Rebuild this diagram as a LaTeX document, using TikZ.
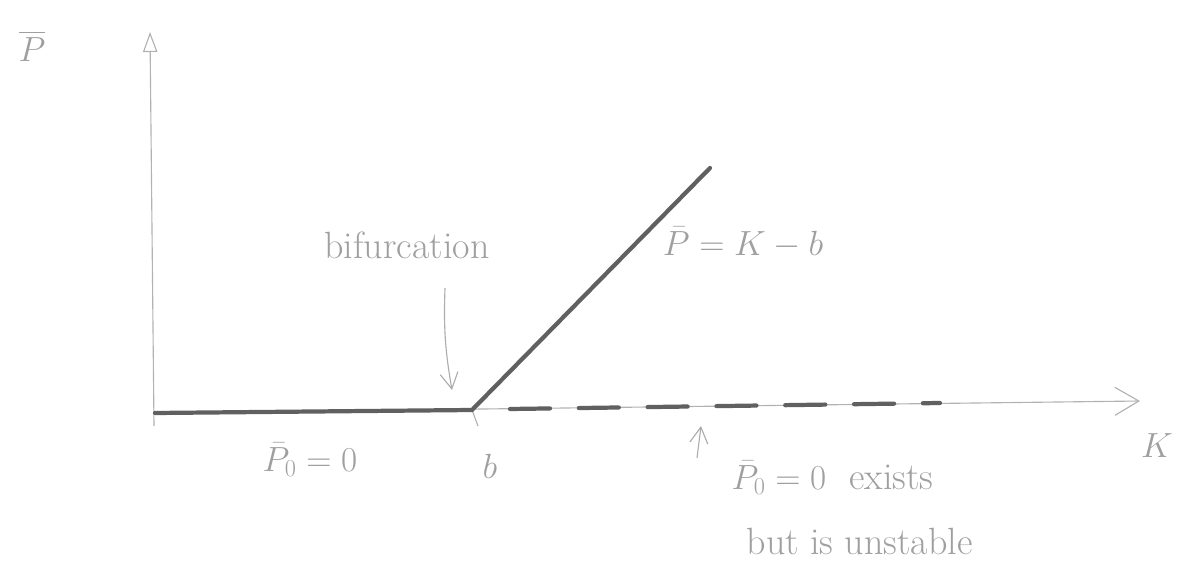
\documentclass[tikz,border=0pt]{standalone}
\usepackage{amsmath,amssymb}
\usepackage{tikz}
\usetikzlibrary{positioning,arrows.meta,calc}

\begin{document}
\begin{tikzpicture}[x=0.025cm, y=-0.025cm,
            label/.style={text=gray!75, font=\fontsize{27}{32}\selectfont, inner sep=1pt},
            axis/.style={gray!60, line width=0.8pt},
            branch/.style={gray!75!black, line width=3pt, line cap=round},
            unstablebranch/.style={branch, dash pattern=on 1cm off 0.72cm},
            pointer/.style={gray!65, line width=0.8pt, -{Straight Barb[length=4mm, width=4.5mm]}}
        ]
            \useasboundingbox (0,0) rectangle (1183,576);
            % axes
            \coordinate (O) at (155,413);
            \coordinate (ybot) at (154,426);
            \coordinate (ytop) at (150,32);
            \coordinate (xend) at (1140,401);
            \draw[axis, -{Triangle[open, length=5mm, width=3.6mm]}] (ybot) -- (ytop);
            \draw[axis, -{Straight Barb[length=6mm, width=7mm]}] (O) -- (xend);
            \node[label] (ylab) at (32,46) {$\overline{P}$};
            \node[label] (xlab) at (1157,446) {$K$};
            % branches
            \coordinate (bif) at (472,410);
            \coordinate (btick) at (478,426);
            \coordinate (top) at (710,168);
            \coordinate (dstart) at (510,409);
            \coordinate (dend) at (940,403);
            \draw[axis] (bif) -- (btick);
            \draw[branch] (O) -- (bif);
            \draw[branch] (bif) -- (top);
            \draw[unstablebranch] (dstart) -- (dend);
            % labels
            \node[label] (biftext) at (407,245) {bifurcation};
            \node[label] (linelab) at (743,243) {$\bar{P}=K-b$};
            \node[label] (zerolab) at (310,460) {$\bar{P}_0=0$};
            \node[label] (blab) at (490,466) {$b$};
            \node[label, anchor=west] (exists) at (730,478) {$\bar{P}_0=0$ \ exists};
            \node[label, anchor=west] (unst) at (745,541) {but is unstable};
            % arrows
            \coordinate (arrtail) at (445,288);
            \coordinate (arrhead) at (452,390);
            \draw[pointer] (arrtail) to[bend right=6] (arrhead);
            \coordinate (uptail) at (697,458);
            \coordinate (uphead) at (701,426);
            \draw[pointer] (uptail) -- (uphead);
        \end{tikzpicture}
\end{document}
